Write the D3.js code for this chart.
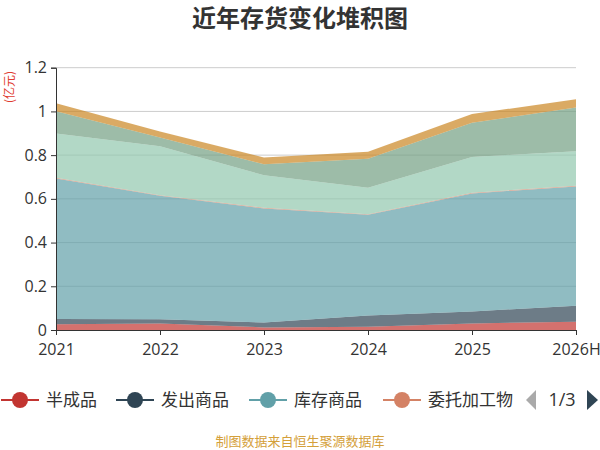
<!DOCTYPE html>
<html>
<head>
<meta charset="utf-8">
<script src="https://cdn.jsdelivr.net/npm/d3@7"></script>
<style>
  html, body { margin: 0; padding: 0; background: #fff; }
  svg { display: block; font-family: "Noto Sans CJK SC", "Noto Sans", sans-serif; }
</style>
</head>
<body>
<svg id="chart" width="600" height="450"></svg>
<script>
// Data (亿元)
const years = ['2021', '2022', '2023', '2024', '2025', '2026H'];
const seriesNames = ['半成品', '发出商品', '库存商品', '委托加工物', '原材料', '在产品', '周转材料'];
const seriesColors = ['#c23531', '#2f4554', '#61a0a8', '#d48265', '#91c7ae', '#749f83', '#ca8622'];
const banChengPin = [0.026, 0.030, 0.012, 0.015, 0.030, 0.038];
const faChuShangPin = [0.024, 0.019, 0.022, 0.051, 0.055, 0.073];
const kuCunShangPin = [0.643, 0.565, 0.522, 0.461, 0.540, 0.546];
const weiTuoJiaGong = [0.003, 0.003, 0.003, 0.003, 0.003, 0.003];
const yuanCaiLiao = [0.203, 0.224, 0.149, 0.121, 0.164, 0.158];
const zaiChanPin = [0.102, 0.040, 0.050, 0.133, 0.156, 0.200];
const zhouZhuanCaiLiao = [0.036, 0.027, 0.031, 0.031, 0.040, 0.038];
const yTicks = [0, 0.2, 0.4, 0.6, 0.8, 1, 1.2];

const allSeries = [banChengPin, faChuShangPin, kuCunShangPin, weiTuoJiaGong,
                   yuanCaiLiao, zaiChanPin, zhouZhuanCaiLiao];

// build rows for d3.stack
const rows = years.map((yr, i) => {
    const row = { year: yr };
    seriesNames.forEach((n, k) => { row[n] = allSeries[k][i]; });
    return row;
});

const svg = d3.select('#chart');
const plotLeft = 56, plotRight = 576, plotTop = 67.7, plotBottom = 330;

const x = d3.scalePoint().domain(years).range([plotLeft, plotRight]);
const y = d3.scaleLinear().domain([0, 1.2]).range([plotBottom, plotTop]);

// Title
svg.append('text')
    .attr('x', 300).attr('y', 27)
    .attr('text-anchor', 'middle')
    .style('font-size', '24px')
    .style('font-weight', 'bold')
    .style('fill', '#333')
    .text('近年存货变化堆积图');

// Grid lines
svg.append('g')
    .selectAll('line')
    .data(yTicks.filter(d => d > 0))
    .enter()
    .append('line')
    .attr('x1', plotLeft).attr('x2', plotRight)
    .attr('y1', d => y(d)).attr('y2', d => y(d))
    .attr('stroke', '#ccc')
    .attr('stroke-width', 1);

// Stacked areas
const stacked = d3.stack().keys(seriesNames)(rows);
const area = d3.area()
    .x(d => x(d.data.year))
    .y0(d => y(d[0]))
    .y1(d => y(d[1]));

svg.append('g')
    .selectAll('path')
    .data(stacked)
    .enter()
    .append('path')
    .attr('d', area)
    .attr('fill', (d, i) => seriesColors[i])
    .attr('fill-opacity', 0.7);

// Y axis
const yAxis = d3.axisLeft(y)
    .tickValues(yTicks)
    .tickSize(5)
    .tickPadding(4)
    .tickFormat(d => d3.format('~g')(d));

const yG = svg.append('g')
    .attr('transform', `translate(${plotLeft},0)`)
    .call(yAxis);
yG.select('.domain').attr('stroke', '#333');
yG.selectAll('.tick line').attr('stroke', '#333');
yG.selectAll('.tick text')
    .style('font-size', '16px')
    .style('fill', '#333')
    .style('font-family', '"Open Sans", "Noto Sans", sans-serif');

// X axis
const xAxis = d3.axisBottom(x).tickSize(5).tickPadding(9).tickSizeOuter(0);
const xG = svg.append('g')
    .attr('transform', `translate(0,${plotBottom})`)
    .call(xAxis);
xG.select('.domain').attr('stroke', '#333');
xG.selectAll('.tick line').attr('stroke', '#333');
xG.selectAll('.tick text')
    .style('font-size', '16px')
    .style('fill', '#333')
    .style('font-family', '"Open Sans", "Noto Sans", sans-serif');

// Unit label
svg.append('text')
    .attr('transform', 'translate(14,87) rotate(-90)')
    .attr('text-anchor', 'middle')
    .style('font-size', '12px')
    .style('fill', '#e03c31')
    .text('(亿元)');

// Legend (first page), x = symbol centre
const legendItems = [
    { label: '半成品', color: seriesColors[0], x: 20 },
    { label: '发出商品', color: seriesColors[1], x: 135 },
    { label: '库存商品', color: seriesColors[2], x: 268 },
    { label: '委托加工物', color: seriesColors[3], x: 402 }
];
const legend = svg.append('g').attr('transform', 'translate(0,400)');
const li = legend.selectAll('.legend-item')
    .data(legendItems)
    .enter()
    .append('g')
    .attr('class', 'legend-item')
    .attr('transform', d => `translate(${d.x},0)`);
li.append('line')
    .attr('x1', -19).attr('x2', 19)
    .attr('y1', 0).attr('y2', 0)
    .attr('stroke', d => d.color)
    .attr('stroke-width', 2);
li.append('circle')
    .attr('cx', 0).attr('cy', 0).attr('r', 8)
    .attr('fill', d => d.color);
li.append('text')
    .attr('x', 26).attr('y', 0).attr('dy', '0.35em')
    .style('font-size', '17px')
    .style('fill', '#333')
    .text(d => d.label);

// pager
legend.append('path')
    .attr('d', 'M 536 -10 L 536 10 L 526 0 Z')
    .attr('fill', '#aaa');
legend.append('text')
    .attr('x', 562).attr('y', 0).attr('dy', '0.35em')
    .attr('text-anchor', 'middle')
    .style('font-size', '18px')
    .style('fill', '#333')
    .style('font-family', '"Open Sans", "Noto Sans", sans-serif')
    .text('1/3');
legend.append('path')
    .attr('d', 'M 587 -10 L 587 10 L 598 0 Z')
    .attr('fill', '#2f4554');

// Footer
svg.append('text')
    .attr('x', 300).attr('y', 446)
    .attr('text-anchor', 'middle')
    .style('font-size', '13px')
    .style('fill', '#d4a03a')
    .text('制图数据来自恒生聚源数据库');
</script>
</body>
</html>
